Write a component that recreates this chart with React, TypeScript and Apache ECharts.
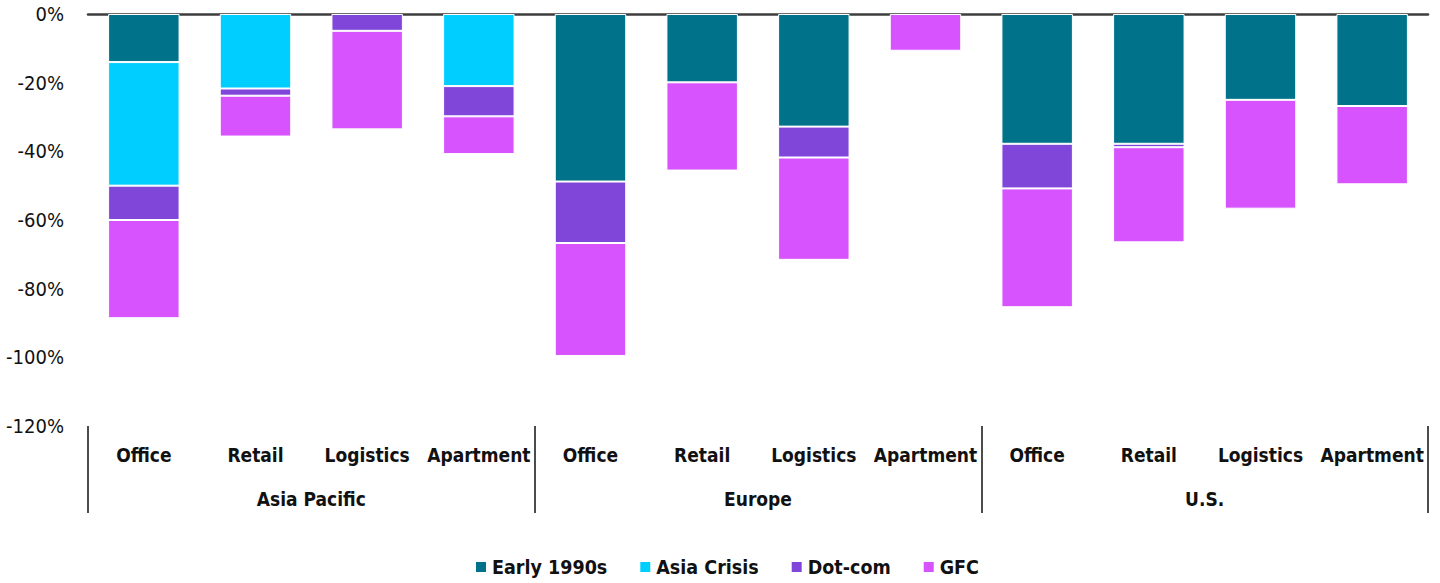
import React, { useEffect, useRef } from "react";
import * as echarts from "echarts";

const categories = [
  "Office", "Retail", "Logistics", "Apartment",
  "Office", "Retail", "Logistics", "Apartment",
  "Office", "Retail", "Logistics", "Apartment",
];
const regions = ["Asia Pacific", "Europe", "U.S."];
const seriesNames = ["Early 1990s", "Asia Crisis", "Dot-com", "GFC"];
const early1990s = [-14, null, null, null, -48.8, -19.9, -32.8, null, -37.8, -37.8, -25.0, -26.8];
const asiaCrisis = [-36, -21.7, null, -21, null, null, null, null, null, null, null, null];
const dotCom = [-10, -2.1, -4.9, -8.8, -17.9, null, -9, null, -13, -1, null, null];
const gfc = [-28.6, -11.9, -28.7, -11, -32.9, -25.7, -29.8, -10.7, -34.6, -27.7, -31.7, -22.8];
const yTicks = { min: -120, max: 0, interval: 20 };
const colors = ["#00728A", "#00CEFF", "#8046D9", "#D653FD"];

const FONT = "'DejaVu Sans Condensed', 'DejaVu Sans', sans-serif";

export default function App() {
  const ref = useRef<HTMLDivElement>(null);
  useEffect(() => {
    if (!ref.current) return;
    const chart = echarts.init(ref.current, null, { renderer: "svg" });
    const values = [early1990s, asiaCrisis, dotCom, gfc];
    chart.setOption({
      animation: false,
      color: colors,
      grid: { left: 88, right: 12, top: 14, bottom: 157, containLabel: false },
      legend: {
        data: seriesNames,
        left: 474,
        top: 557,
        padding: 0,
        icon: "rect",
        itemWidth: 12,
        itemHeight: 12,
        itemGap: 31,
        textStyle: { fontFamily: FONT, fontSize: 19.5, fontWeight: "bold", color: "#111" },
      },
      xAxis: [
        {
          type: "category",
          data: categories,
          position: "bottom",
          axisLine: { show: false },
          axisTick: { show: false },
          axisLabel: {
            interval: 0,
            margin: 19,
            fontFamily: FONT,
            fontSize: 19,
            fontWeight: "bold",
            color: "#111",
          },
        },
        {
          type: "category",
          data: regions,
          position: "bottom",
          axisLine: { show: false },
          axisTick: { show: true, length: 87, lineStyle: { color: "#111", width: 1.5 } },
          axisLabel: {
            interval: 0,
            margin: 63,
            fontFamily: FONT,
            fontSize: 19,
            fontWeight: "bold",
            color: "#111",
          },
        },
        {
          type: "category",
          data: categories,
          position: "top",
          axisLine: { show: true, lineStyle: { color: "#3d3d3d", width: 2.5 } },
          axisTick: { show: false },
          axisLabel: { show: false },
        },
      ],
      yAxis: {
        type: "value",
        min: yTicks.min,
        max: yTicks.max,
        interval: yTicks.interval,
        axisLine: { show: false },
        axisTick: { show: false },
        splitLine: { show: false },
        axisLabel: {
          margin: 24,
          formatter: (v: number) => `${v}%`,
          fontFamily: FONT,
          fontSize: 20,
          color: "#111",
        },
      },
      series: seriesNames.map((name, i) => ({
        name,
        type: "bar",
        stack: "total",
        xAxisIndex: 0,
        barWidth: "64%",
        data: values[i],
        itemStyle: { color: colors[i], borderColor: "#fff", borderWidth: 1 },
      })),
    });
    return () => chart.dispose();
  }, []);
  return (
    <div
      ref={ref}
      style={{ position: "fixed", left: 0, top: 0, width: 1440, height: 583, background: "#fff" }}
    />
  );
}
